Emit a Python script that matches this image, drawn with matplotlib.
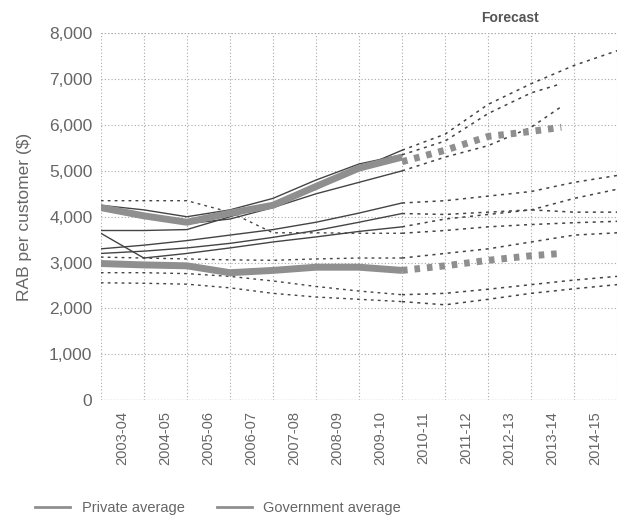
"""
plot.py

RAB per customer: individual utilities plus private and government
averages, historical (solid) and forecast (dotted) to 2014-15.
"""

import numpy as np
import matplotlib.pyplot as plt
from matplotlib.lines import Line2D

OUT = "out.png"

PERIODS = ["2003-04", "2004-05", "2005-06", "2006-07", "2007-08", "2008-09",
           "2009-10", "2010-11", "2011-12", "2012-13", "2013-14", "2014-15"]

# x positions (category boundaries) for historical and forecast points
HIST_X = [0, 1, 2, 3, 4, 5, 6, 7]
FCST_X = [7, 8, 9, 10, 11, 12]
SHORT_FCST_X = [7, 8, 9, 10, 10.7]

# averages ($ per customer)
PRIVATE_AVG_HIST = [4200, 4020, 3880, 4080, 4250, 4660, 5060, 5300]
PRIVATE_AVG_FCST = [5200, 5450, 5750, 5860, 5950]
GOV_AVG_HIST = [2980, 2950, 2930, 2780, 2830, 2900, 2900, 2830]
GOV_AVG_FCST = [2830, 2930, 3050, 3150, 3200]

# individual utilities: historical values, solid unless flagged dotted
UTIL_HIST = [
    [4350, 4350, 4350, 4100, 3650, 3650, 3640, 3640],
    [3700, 3700, 3720, 4000, 4280, 4600, 5050, 5450],
    [4150, 4000, 3850, 3950, 4200, 4500, 4750, 5000],
    [4250, 4150, 4000, 4150, 4400, 4800, 5150, 5350],
    [3300, 3380, 3480, 3600, 3720, 3880, 4080, 4300],
    [3640, 3100, 3200, 3320, 3450, 3560, 3680, 3780],
    [3120, 3100, 3080, 3060, 3050, 3080, 3100, 3100],
    [3200, 3250, 3320, 3420, 3550, 3700, 3880, 4070],
    [2780, 2780, 2760, 2700, 2600, 2480, 2380, 2300],
    [2560, 2550, 2530, 2450, 2330, 2250, 2200, 2150],
]
UTIL_HIST_DOTTED = [True, False, False, False, False, False, True, False, True, True]

# forecasts to 2014-15 (None = series stops at 2013-14)
UTIL_FCST = [
    [3640, 3700, 3780, 3830, 3870, 3900],
    [5450, 5800, 6450, 6900, 7300, 7620],
    [5000, 5300, 5550, 5950, 6400, None],
    [5350, 5650, 6250, 6700, 6900, None],
    [4300, 4350, 4450, 4550, 4750, 4900],
    [3780, 3950, 4050, 4150, 4400, 4600],
    [3100, 3200, 3300, 3450, 3600, 3650],
    [4070, 4050, 4100, 4150, 4100, 4100],
    [2300, 2330, 2420, 2520, 2620, 2700],
    [2150, 2080, 2200, 2330, 2430, 2520],
]

TEXT = "#666666"
LINE = "#444444"
AVG = "#8f8f8f"
GRID = "#a8a8a8"


def fcst_xy(vals):
    # series ending a year early stop part way through 2013-14
    if vals[-1] is None:
        return SHORT_FCST_X, vals[:-1]
    return FCST_X, vals


def main():
    plt.rcParams["font.family"] = ["Liberation Sans", "DejaVu Sans"]
    fig = plt.figure(figsize=(6.26, 5.28), dpi=100)
    ax = fig.add_axes([0.161, 0.242, 0.825, 0.695])

    for hist, dotted, fc in zip(UTIL_HIST, UTIL_HIST_DOTTED, UTIL_FCST):
        ax.plot(HIST_X, hist, color=LINE, lw=1.0,
                ls=(0, (2, 3)) if dotted else "-", zorder=3)
        fx, fy = fcst_xy(fc)
        ax.plot(fx, fy, color=LINE, lw=1.1, ls=(0, (2, 3)), zorder=3)

    ax.plot(HIST_X, PRIVATE_AVG_HIST, color=AVG, lw=5, solid_capstyle="butt", zorder=4)
    ax.plot(SHORT_FCST_X, PRIVATE_AVG_FCST, color=AVG, lw=5, ls=(0, (0.8, 1.0)), zorder=4)
    ax.plot(HIST_X, GOV_AVG_HIST, color=AVG, lw=5, solid_capstyle="butt", zorder=4)
    ax.plot(SHORT_FCST_X, GOV_AVG_FCST, color=AVG, lw=5, ls=(0, (0.8, 1.0)), zorder=4)

    ax.set_xlim(0, 12)
    ax.set_ylim(0, 8000)
    ax.set_yticks(np.arange(0, 8001, 1000))
    ax.set_yticklabels([f"{v:,}" for v in range(0, 8001, 1000)],
                       fontsize=12.5, color=TEXT)
    ax.set_xticks(np.arange(len(PERIODS)) + 0.5)
    ax.set_xticklabels(PERIODS, rotation=90, fontsize=10.5, color=TEXT)
    ax.set_xticks(np.arange(0, 13), minor=True)
    ax.tick_params(axis="both", which="both", length=0)
    ax.tick_params(axis="x", pad=8)
    ax.tick_params(axis="y", pad=6)

    ax.grid(False, axis="x", which="major")
    ax.grid(True, axis="x", which="minor", color=GRID, lw=0.8, ls=(0, (1, 2)))
    ax.grid(True, axis="y", which="major", color=GRID, lw=0.8, ls=(0, (1, 2)))
    for s in ax.spines.values():
        s.set_visible(False)
    ax.axhline(0, color="#8a8a8a", lw=0.9, ls=(0, (1, 1.5)))
    ax.axhline(8000, color=GRID, lw=0.8, ls=(0, (1, 2)))
    ax.set_axisbelow(True)

    ax.set_ylabel("RAB per customer ($)", fontsize=12.5, color=TEXT, labelpad=12)
    ax.text(9.5, 8180, "Forecast", fontsize=10, color="#555555", fontweight="bold",
            ha="center", va="bottom")

    handles = [Line2D([], [], color=AVG, lw=2.0),
               Line2D([], [], color=AVG, lw=2.0)]
    fig.legend(handles, ["Private average", "Government average"],
               loc="lower left", bbox_to_anchor=(0.035, 0.0), ncol=2,
               frameon=False, fontsize=10.5, handlelength=2.4, columnspacing=2.2,
               labelcolor=TEXT)

    fig.savefig(OUT, dpi=100)
    plt.close(fig)


if __name__ == "__main__":
    main()
